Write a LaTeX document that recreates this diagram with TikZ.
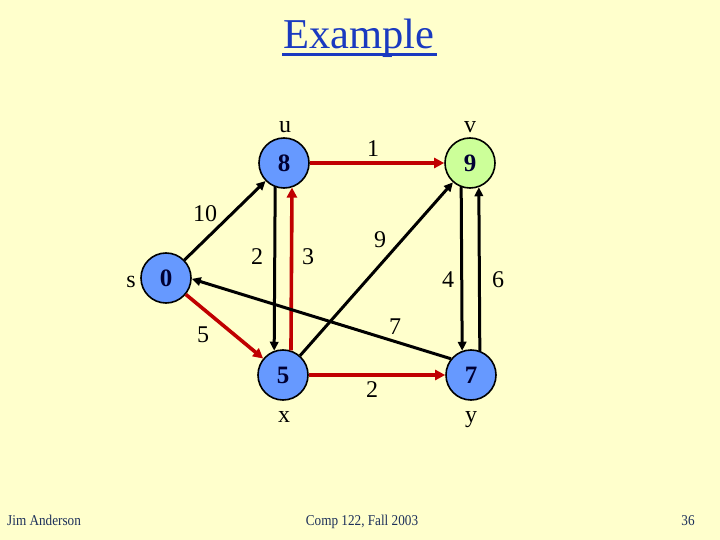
\documentclass[tikz,border=0pt]{standalone}
\usepackage{fontspec}
\setmainfont{Liberation Serif}
\newfontfamily\footfont[FakeStretch=0.88]{Liberation Serif}
\usetikzlibrary{arrows.meta}
\definecolor{bgyellow}{HTML}{FFFFCC}
\definecolor{nodeblue}{HTML}{6699FF}
\definecolor{nodegreen}{HTML}{CCFF99}
\definecolor{edgered}{HTML}{C00000}
\definecolor{titleblue}{HTML}{1A3AC0}
\definecolor{footnavy}{HTML}{1C2F5A}
\definecolor{numnavy}{HTML}{000033}
\tikzset{
  vertex/.style={circle, draw=black, line width=1.6pt, minimum size=50pt, inner sep=0pt,
    fill=nodeblue, text=numnavy, font=\bfseries\fontsize{25}{25}\selectfont},
  blackedge/.style={draw=black, line width=3pt, -{Triangle[length=9pt,width=8.5pt]}},
  rededge/.style={draw=edgered, line width=3.6pt, -{Triangle[length=10pt,width=10pt]}},
  wlabel/.style={font=\fontsize{24}{24}\selectfont, inner sep=0pt},
  vname/.style={font=\fontsize{24}{24}\selectfont, inner sep=0pt, anchor=base},
  foot/.style={font=\footfont\fontsize{15}{15}\selectfont, text=footnavy, inner sep=0pt, anchor=base}
}
\begin{document}
\begin{tikzpicture}[x=1pt, y=-1pt]
\fill[bgyellow] (0,0) rectangle (720,540);
\useasboundingbox (0,0) rectangle (720,540);
% title
\node[font=\fontsize{42.5}{42.5}\selectfont, text=titleblue, inner sep=0pt, anchor=base] (title) at (359,49) {Example};
\draw[titleblue, line width=3pt] (title.base west) ++(-1,5.5) coordinate (ul1) -- ([xshift=2pt]ul1 -| title.base east);
% vertices
\node[vertex] (u) at (284,163) {8};
\node[vertex, fill=nodegreen] (v) at (470,163) {9};
\node[vertex] (s) at (166,278) {0};
\node[vertex] (x) at (283,375) {5};
\node[vertex] (y) at (471,375) {7};
% vertex names
\node[vname] (nu) at (285,133) {u};
\node[vname] (nv) at (470,133) {v};
\node[vname] (ns) at (131,287) {s};
\node[vname] (nx) at (284,422) {x};
\node[vname] (ny) at (471,422) {y};
% edges
\draw[blackedge] (s) -- (u);
\draw[blackedge] (u.250) -- (x.110);
\draw[rededge] (x.72) -- (u.288);
\draw[rededge] (u) -- (v);
\draw[blackedge] (x) -- (v);
\draw[blackedge] (v.250) -- (y.110);
\draw[blackedge] (y.70) -- (v.290);
\draw[blackedge] (y.141) -- (s.358);
\draw[rededge] (s) -- (x);
\draw[rededge] (x) -- (y);
% weights
\node[wlabel] (w1) at (373,149) {1};
\node[wlabel] (w10) at (205,214) {10};
\node[wlabel] (w2a) at (257,257) {2};
\node[wlabel] (w3) at (308,257) {3};
\node[wlabel] (w9) at (380,240) {9};
\node[wlabel] (w4) at (448,280) {4};
\node[wlabel] (w6) at (498,280) {6};
\node[wlabel] (w7) at (395,327) {7};
\node[wlabel] (w5) at (203,335) {5};
\node[wlabel] (w2b) at (372,390) {2};
% footer
\node[foot, anchor=base west] (f1) at (7,525) {Jim Anderson};
\node[foot] (f2) at (362,525) {Comp 122, Fall 2003};
\node[foot] (f3) at (688,525) {36};
\end{tikzpicture}
\end{document}
